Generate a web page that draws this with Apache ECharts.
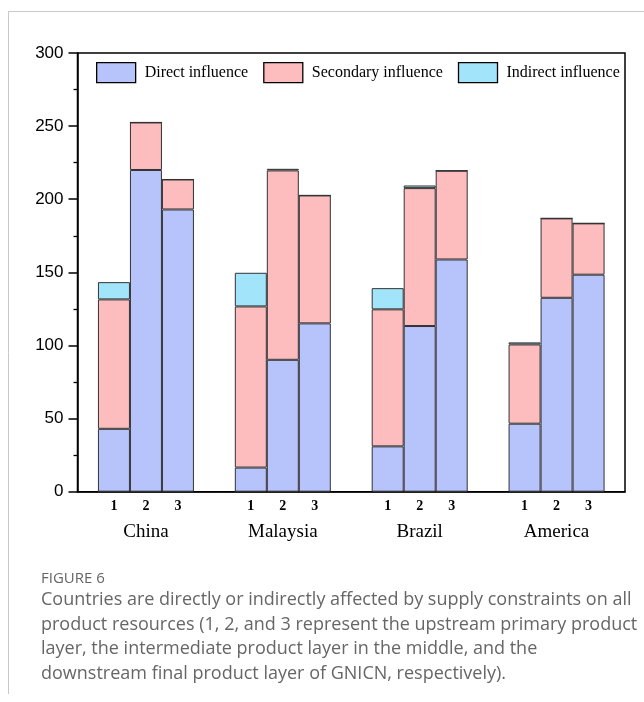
<!DOCTYPE html>
<html><head><meta charset="utf-8">
<script src="https://cdn.jsdelivr.net/npm/echarts@6/dist/echarts.min.js"></script>
<style>html,body{margin:0;padding:0;background:#fff}#c{width:644px;height:702px}</style>
</head><body><div id="c"></div>
<script>
const categories = ['China', 'Malaysia', 'Brazil', 'America'];
const layers = ['1', '2', '3'];
const seriesNames = ['Direct influence', 'Secondary influence', 'Indirect influence'];
// layer 1 (upstream primary)
const direct1 = [43, 16.5, 31, 46.5];
const secondary1 = [88.5, 110.2, 93.7, 54.2];
const indirect1 = [11.8, 23, 14.5, 1.4];
// layer 2 (intermediate)
const direct2 = [220, 90.2, 113.3, 132.6];
const secondary2 = [32.5, 129.5, 94.3, 54.3];
const indirect2 = [0, 1.1, 1.8, 0];
// layer 3 (downstream final)
const direct3 = [193, 115.1, 158.8, 148.4];
const secondary3 = [20.5, 87.5, 60.7, 35.1];
const indirect3 = [0, 0, 0, 0];
const yTicks = { min: 0, max: 300, interval: 50 };
const captionTitle = 'FIGURE 6';
const captionLines = [
  'Countries are directly or indirectly affected by supply constraints on all',
  'product resources (1, 2, and 3 represent the upstream primary product',
  'layer, the intermediate product layer in the middle, and the',
  'downstream final product layer of GNICN, respectively).'
];

const colors = ['#b7c3fb', '#fdbcbe', '#a2e5fb'];
const serif = '"Liberation Serif", "Times New Roman", serif';
const layerData = [
  [direct1, secondary1, indirect1],
  [direct2, secondary2, indirect2],
  [direct3, secondary3, indirect3]
];
const series = [];
layerData.forEach((arrs, li) => {
  arrs.forEach((d, si) => {
    const s = {
      name: seriesNames[si], type: 'bar', stack: 'L' + layers[li],
      data: d, barWidth: 32, barGap: '0%',
      itemStyle: { color: colors[si], borderColor: '#333', borderWidth: 1 },
      emphasis: { disabled: true }
    };
    if (si === 0) {
      s.label = { show: true, position: 'bottom', distance: 8, formatter: layers[li],
        fontFamily: serif, fontSize: 14, fontWeight: 'bold', color: '#000' };
    }
    series.push(s);
  });
});

const chart = echarts.init(document.getElementById('c'), null, { renderer: 'canvas' });
chart.setOption({
  animation: false,
  backgroundColor: '#fff',
  grid: { left: 77.5, right: 19, top: 53, bottom: 210.3, show: true, borderColor: '#000', borderWidth: 1.5 },
  legend: {
    data: seriesNames, top: 62, left: 96, padding: 0, itemWidth: 39, itemHeight: 20, itemGap: 15,
    icon: 'rect', textStyle: { fontFamily: serif, fontSize: 16, color: '#000', padding: [0, 0, 0, 4] },
    itemStyle: { borderColor: '#000', borderWidth: 1.3 }, selectedMode: false
  },
  xAxis: {
    type: 'category', data: categories,
    axisLine: { lineStyle: { color: '#000', width: 1.5 } },
    axisTick: { show: false },
    axisLabel: { fontFamily: serif, fontSize: 19, color: '#000', margin: 31 }
  },
  yAxis: {
    type: 'value', min: yTicks.min, max: yTicks.max, interval: yTicks.interval,
    axisLine: { show: true, lineStyle: { color: '#000', width: 1.5 } },
    axisTick: { show: true, length: 9, lineStyle: { color: '#000', width: 1.5 } },
    minorTick: { show: true, splitNumber: 2, length: 4, lineStyle: { color: '#000', width: 1.3 } },
    splitLine: { show: false },
    axisLabel: { fontFamily: '"Liberation Sans", Arial, sans-serif', fontSize: 17, color: '#000', margin: 14 }
  },
  series: series,
  graphic: [
    { type: 'line', shape: { x1: 8, y1: 11.5, x2: 644, y2: 11.5 }, style: { stroke: '#c8c8c8', lineWidth: 1 } },
    { type: 'line', shape: { x1: 8.5, y1: 11, x2: 8.5, y2: 694 }, style: { stroke: '#c8c8c8', lineWidth: 1 } },
    { type: 'text', left: 41, top: 571, style: { text: captionTitle, font: '15px "Open Sans", sans-serif', fill: '#666' } },
  ].concat(captionLines.map((t, i) => ({
    type: 'text', left: 41, top: 591 + i * 24.5,
    style: { text: t, font: '18px "Open Sans", sans-serif', fill: '#666' }
  })))
});
</script></body></html>
